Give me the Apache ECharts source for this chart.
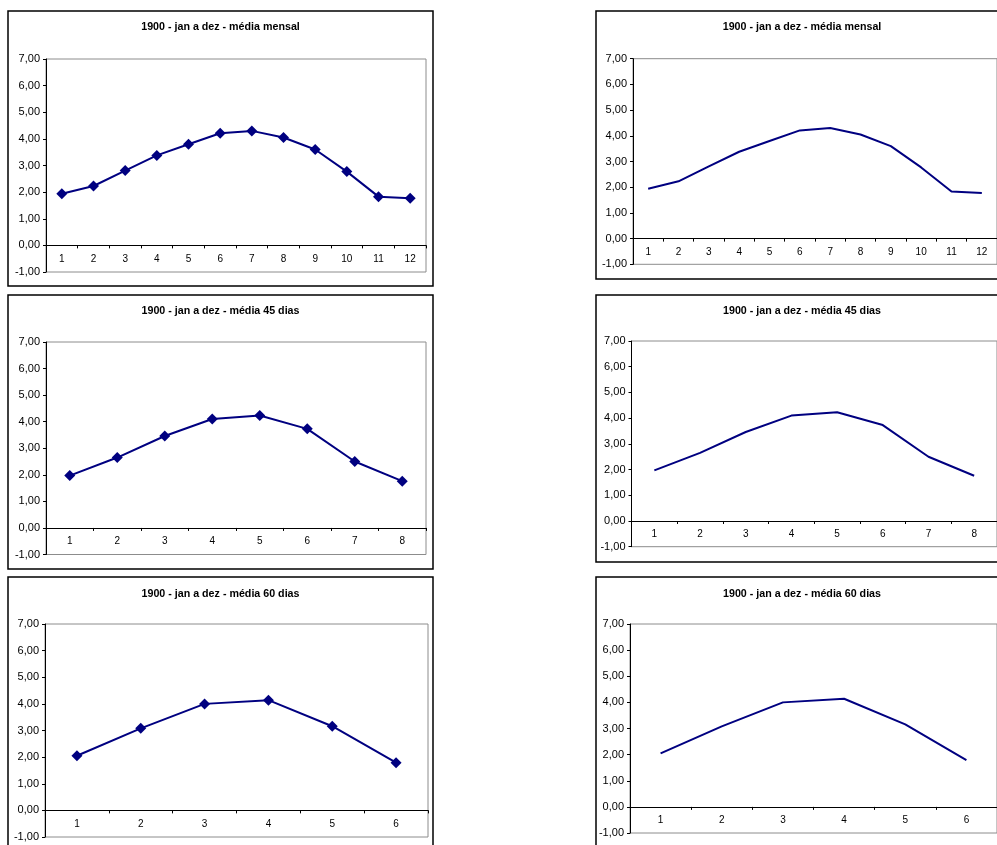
<!DOCTYPE html>
<html>
<head>
<meta charset="utf-8">
<title>1900 - jan a dez</title>
<script src="https://cdn.jsdelivr.net/npm/echarts@6/dist/echarts.min.js"></script>
<style>
  html, body { margin: 0; padding: 0; background: #ffffff; }
  #chart { width: 997px; height: 845px; }
</style>
</head>
<body>
<div id="chart"></div>
<script>
// Categories (period numbers) for each averaging window
const mesesMensal = ['1', '2', '3', '4', '5', '6', '7', '8', '9', '10', '11', '12'];
const periodos45 = ['1', '2', '3', '4', '5', '6', '7', '8'];
const periodos60 = ['1', '2', '3', '4', '5', '6'];

// Averaged values for 1900
const mediaMensal = [1.94, 2.23, 2.81, 3.38, 3.80, 4.21, 4.30, 4.05, 3.60, 2.77, 1.83, 1.77];
const media45 = [1.97, 2.65, 3.46, 4.10, 4.23, 3.73, 2.50, 1.76];
const media60 = [2.05, 3.08, 4.00, 4.14, 3.16, 1.79];

// Titles
const tituloMensal = '1900 - jan a dez - média mensal';
const titulo45 = '1900 - jan a dez - média 45 dias';
const titulo60 = '1900 - jan a dez - média 60 dias';

// Value axis range and ticks
const yMin = -1, yMax = 7, yStep = 1;

const FONT = 'Arial, "Liberation Sans", sans-serif';
const NAVY = '#000080';

// Panel layout: frame box, title centre and plot rectangle
const panels = [
  { box: [8, 11, 425, 275],  title: [220.5, 27],  grid: [46, 59, 380, 213],   cats: mesesMensal, vals: mediaMensal, text: tituloMensal, markers: true },
  { box: [8, 295, 425, 274], title: [220.5, 311], grid: [46, 342, 380, 212.5], cats: periodos45, vals: media45, text: titulo45, markers: true },
  { box: [8, 577, 425, 290], title: [220.5, 594], grid: [45, 624, 383, 213],  cats: periodos60, vals: media60, text: titulo60, markers: true },
  { box: [596, 11, 420, 268], title: [802, 27], grid: [633, 58.7, 371, 205.6], cats: mesesMensal, vals: mediaMensal, text: tituloMensal, markers: false },
  { box: [596, 295, 420, 267], title: [802, 311.5], grid: [631.5, 341, 370, 205.7], cats: periodos45, vals: media45, text: titulo45, markers: false },
  { box: [596, 577, 420, 290], title: [802, 594], grid: [630, 624, 374, 209], cats: periodos60, vals: media60, text: titulo60, markers: false }
];

const grids = [], xAxes = [], yAxes = [], series = [], graphics = [];

panels.forEach((p, i) => {
  const [bx, by, bw, bh] = p.box;
  graphics.push({
    type: 'rect', z: 0, silent: true,
    shape: { x: bx, y: by, width: bw, height: bh },
    style: { fill: null, stroke: '#000000', lineWidth: 1.5 }
  });
  graphics.push({
    type: 'text', z: 10, silent: true,
    x: p.title[0], y: p.title[1],
    style: {
      text: p.text, fill: '#000000', font: 'bold 10.7px ' + FONT,
      align: 'center', verticalAlign: 'middle'
    }
  });

  const [gl, gt, gw, gh] = p.grid;
  grids.push({
    left: gl, top: gt, width: gw, height: gh,
    show: true, borderColor: '#8c8c8c', borderWidth: 1, backgroundColor: 'transparent',
    containLabel: false
  });

  // The category axis sits on the zero line: shift it up by one value step
  const unitPx = gh / (yMax - yMin);
  xAxes.push({
    type: 'category', gridIndex: i, data: p.cats, boundaryGap: true,
    position: 'bottom', offset: -unitPx * (0 - yMin),
    axisLine: { show: true, onZero: false, lineStyle: { color: '#000000', width: 1 } },
    axisTick: { show: true, length: 3, interval: 0, lineStyle: { color: '#000000' } },
    axisLabel: { show: true, interval: 0, margin: 8.5, fontSize: 10, color: '#000000', fontFamily: FONT },
    splitLine: { show: false }
  });

  yAxes.push({
    type: 'value', gridIndex: i, min: yMin, max: yMax, interval: yStep,
    axisLine: { show: true, lineStyle: { color: '#000000', width: 1 } },
    axisTick: { show: true, length: 3, lineStyle: { color: '#000000' } },
    axisLabel: {
      show: true, margin: 6, fontSize: 11, color: '#000000', fontFamily: FONT,
      formatter: v => v.toFixed(2).replace('.', ',')
    },
    splitLine: { show: false }
  });

  series.push({
    type: 'line', xAxisIndex: i, yAxisIndex: i, data: p.vals,
    symbol: p.markers ? 'diamond' : 'none', symbolSize: 11, showSymbol: p.markers,
    lineStyle: { color: NAVY, width: 2 },
    itemStyle: { color: NAVY },
    animation: false, silent: true
  });
});

const chart = echarts.init(document.getElementById('chart'), null, { renderer: 'canvas' });
chart.setOption({
  animation: false,
  backgroundColor: '#ffffff',
  grid: grids,
  xAxis: xAxes,
  yAxis: yAxes,
  series: series,
  graphic: graphics
});
</script>
</body>
</html>
